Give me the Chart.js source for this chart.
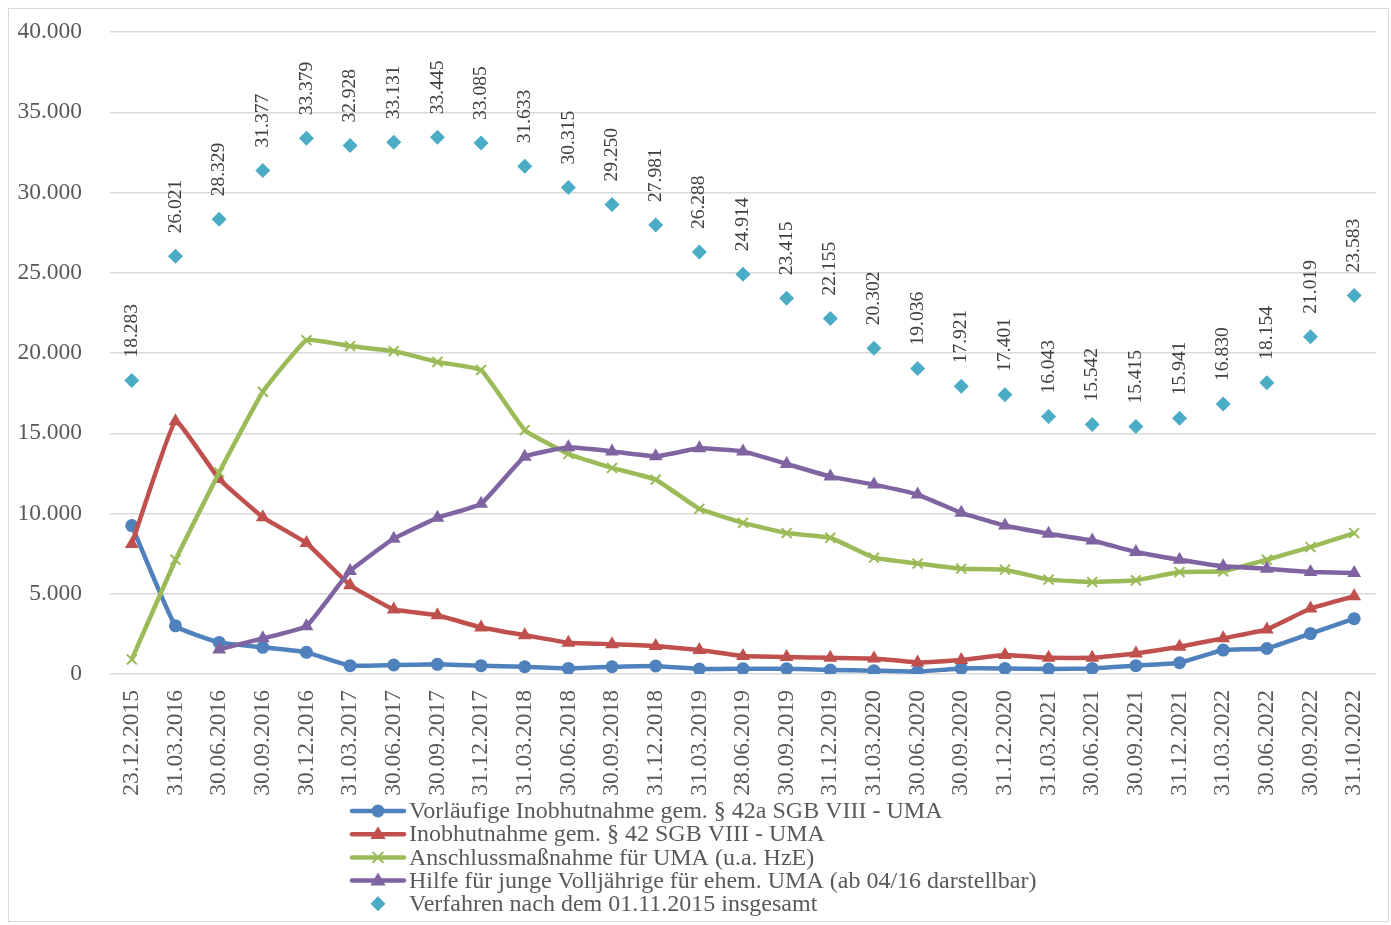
<!DOCTYPE html>
<html>
<head>
<meta charset="utf-8">
<script src="https://cdn.jsdelivr.net/npm/chart.js@4.4.0/dist/chart.umd.min.js"></script>
<style>
	html, body { margin: 0; padding: 0; background: #fff; }
	#wrap { width: 1391px; height: 925px; }
</style>
</head>
<body>
<div id="wrap"><canvas id="c" width="1391" height="925"></canvas></div>
<script>
// Stichtage
const dates = [
	"23.12.2015", "31.03.2016", "30.06.2016", "30.09.2016", "30.12.2016",
	"31.03.2017", "30.06.2017", "30.09.2017", "31.12.2017", "31.03.2018",
	"30.06.2018", "30.09.2018", "31.12.2018", "31.03.2019", "28.06.2019",
	"30.09.2019", "31.12.2019", "31.03.2020", "30.06.2020", "30.09.2020",
	"31.12.2020", "31.03.2021", "30.06.2021", "30.09.2021", "31.12.2021",
	"31.03.2022", "30.06.2022", "30.09.2022", "31.10.2022",
];

const vorlaeufig = [
	9250, 3000, 1970, 1660, 1350, 520, 560, 600, 520, 450,
	350, 450, 500, 310, 330, 330, 250, 210, 150, 350,
	350, 310, 350, 520, 700, 1490, 1590, 2520, 3450,
];
const inobhut = [
	8100, 15750, 12150, 9770, 8160, 5530, 4020, 3660, 2900, 2420,
	1950, 1860, 1740, 1490, 1120, 1060, 1010, 970, 720, 870,
	1180, 1010, 1010, 1280, 1700, 2220, 2780, 4080, 4840,
];
const anschluss = [
	910, 7120, 12560, 17580, 20800, 20430, 20120, 19440, 18940, 15200,
	13710, 12840, 12110, 10290, 9420, 8780, 8490, 7250, 6880, 6560,
	6500, 5880, 5730, 5840, 6350, 6400, 7120, 7910, 8780,
];
const volljaehrige = [
	null, null, 1530, 2220, 2980, 6420, 8430, 9730, 10600, 13540,
	14120, 13870, 13560, 14060, 13870, 13090, 12300, 11800, 11180, 10040,
	9250, 8740, 8320, 7600, 7120, 6710, 6560, 6350, 6290,
];
const insgesamt = [
	18283, 26021, 28329, 31377, 33379, 32928, 33131, 33445, 33085, 31633,
	30315, 29250, 27981, 26288, 24914, 23415, 22155, 20302, 19036, 17921,
	17401, 16043, 15542, 15415, 15941, 16830, 18154, 21019, 23583,
];

const seriesNames = [
	"Vorläufige Inobhutnahme gem. § 42a SGB VIII - UMA",
	"Inobhutnahme gem. § 42 SGB VIII - UMA",
	"Anschlussmaßnahme für UMA (u.a. HzE)",
	"Hilfe für junge Volljährige für ehem. UMA (ab 04/16 darstellbar)",
	"Verfahren nach dem 01.11.2015 insgesamt",
];

const FONT = "'Liberation Serif', 'Times New Roman', serif";
const TEXT = "#595959";

const fmt = (v) => String(v).replace(/\B(?=(\d{3})+(?!\d))/g, ".");

function drawMarker(ctx, style, x, y, r, color) {
	ctx.save();
	ctx.fillStyle = color;
	ctx.strokeStyle = color;
	ctx.beginPath();
	if (style === "circle") {
		ctx.arc(x, y, r, 0, Math.PI * 2);
		ctx.fill();
	} else if (style === "triangle") {
		ctx.moveTo(x, y - r);
		ctx.lineTo(x + r * 0.95, y + r * 0.6);
		ctx.lineTo(x - r * 0.95, y + r * 0.6);
		ctx.closePath();
		ctx.fill();
	} else if (style === "crossRot") {
		ctx.lineWidth = 2;
		ctx.moveTo(x - r * 0.7, y - r * 0.7);
		ctx.lineTo(x + r * 0.7, y + r * 0.7);
		ctx.moveTo(x + r * 0.7, y - r * 0.7);
		ctx.lineTo(x - r * 0.7, y + r * 0.7);
		ctx.stroke();
	} else if (style === "rectRot") {
		ctx.moveTo(x, y - r);
		ctx.lineTo(x + r, y);
		ctx.lineTo(x, y + r);
		ctx.lineTo(x - r, y);
		ctx.closePath();
		ctx.fill();
	}
	ctx.restore();
}

// Rahmen um die Grafik
const framePlugin = {
	id: "frame",
	beforeDraw(chart) {
		const ctx = chart.ctx;
		ctx.save();
		ctx.fillStyle = "#fff";
		ctx.fillRect(0, 0, chart.width, chart.height);
		ctx.strokeStyle = "#d9d9d9";
		ctx.lineWidth = 1;
		ctx.strokeRect(8.5, 8.5, 1380, 913);
		ctx.restore();
	},
};

// senkrechte Werte über den Rauten
const totalLabelsPlugin = {
	id: "totalLabels",
	afterDatasetsDraw(chart) {
		const ctx = chart.ctx;
		const meta = chart.getDatasetMeta(4);
		const data = chart.data.datasets[4].data;
		ctx.save();
		ctx.font = `19.5px ${FONT}`;
		ctx.fillStyle = "#404040";
		ctx.textAlign = "left";
		ctx.textBaseline = "middle";
		meta.data.forEach((pt, i) => {
			ctx.save();
			ctx.translate(pt.x, pt.y - 23);
			ctx.rotate(-Math.PI / 2);
			ctx.fillText(fmt(data[i]), 0, 0);
			ctx.restore();
		});
		ctx.restore();
	},
};

// Legende untereinander
const listLegendPlugin = {
	id: "listLegend",
	afterDraw(chart) {
		const ctx = chart.ctx;
		const x0 = 350;
		const y0 = 811;
		const rowH = 23.2;
		ctx.save();
		ctx.font = `24px ${FONT}`;
		ctx.textBaseline = "middle";
		ctx.textAlign = "left";
		chart.data.datasets.forEach((ds, i) => {
			const y = y0 + i * rowH;
			if (ds.showLine !== false) {
				ctx.strokeStyle = ds.borderColor;
				ctx.lineWidth = 4.5;
				ctx.lineCap = "round";
				ctx.beginPath();
				ctx.moveTo(x0 + 2, y);
				ctx.lineTo(x0 + 54, y);
				ctx.stroke();
			}
			drawMarker(ctx, ds.pointStyle, x0 + 28, y, ds.pointRadius, ds.pointBackgroundColor);
			ctx.fillStyle = TEXT;
			ctx.fillText(ds.label, x0 + 59, y + 1);
		});
		ctx.restore();
	},
};

const colors = ["#4f81bd", "#c0504d", "#9bbb59", "#8064a2", "#4bacc6"];
const styles = ["circle", "triangle", "crossRot", "triangle", "rectRot"];
const radii = [6.5, 8, 7, 8, 7.5];
const values = [vorlaeufig, inobhut, anschluss, volljaehrige, insgesamt];

const datasets = values.map((vals, i) => ({
	label: seriesNames[i],
	data: vals,
	borderColor: colors[i],
	backgroundColor: colors[i],
	pointBackgroundColor: colors[i],
	pointBorderColor: colors[i],
	pointStyle: styles[i],
	pointRadius: radii[i],
	pointBorderWidth: styles[i] === "crossRot" ? 2 : 0,
	borderWidth: 4.5,
	tension: 0.1,
	showLine: i !== 4,
	order: 4 - i,
}));

new Chart(document.getElementById("c"), {
	type: "line",
	data: { labels: dates, datasets },
	options: {
		responsive: false,
		animation: false,
		events: [],
		layout: { padding: { left: 10, right: 15, top: 32, bottom: 125 } },
		plugins: {
			legend: { display: false },
			tooltip: { enabled: false },
		},
		scales: {
			x: {
				offset: true,
				grid: { display: false, offset: true },
				border: { display: false },
				afterFit: (s) => { s.height = 126; },
				ticks: {
					autoSkip: false,
					maxRotation: 90,
					minRotation: 90,
					padding: 8,
					color: TEXT,
					font: { family: FONT, size: 23.5 },
				},
			},
			y: {
				min: 0,
				max: 40000,
				afterFit: (s) => {
					s.width = 100;
					s.paddingTop = 0;
					s.paddingBottom = 0;
				},
				border: { display: false },
				grid: { color: "#d9d9d9", lineWidth: 1.5, drawTicks: false },
				ticks: {
					stepSize: 5000,
					padding: 28,
					color: TEXT,
					font: { family: FONT, size: 23.5 },
					callback: (v) => fmt(v),
				},
			},
		},
	},
	plugins: [framePlugin, totalLabelsPlugin, listLegendPlugin],
});
</script>
</body>
</html>
